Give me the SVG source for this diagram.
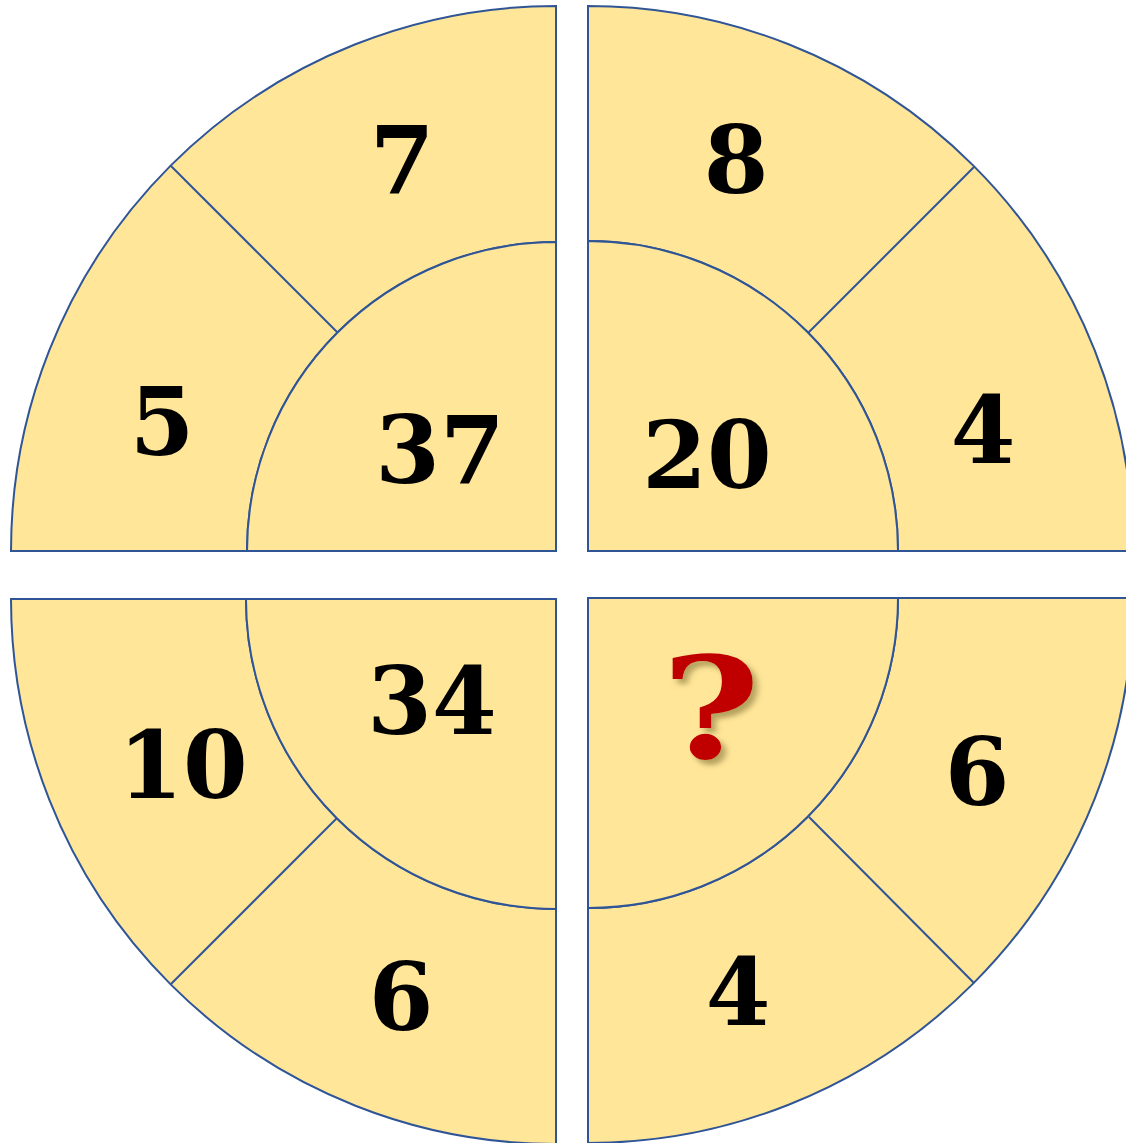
<svg xmlns="http://www.w3.org/2000/svg" width="1126" height="1143" viewBox="0 0 1126 1143">
<style>
.seg{fill:#FFE699;stroke:#2F5597;stroke-width:2;stroke-linejoin:miter}
.div{stroke:#2F5597;stroke-width:2;fill:none}
.num{font-family:"DejaVu Serif",serif;font-weight:bold;font-size:93px;fill:#000;text-anchor:middle}
.q{font-family:"DejaVu Serif",serif;font-weight:bold;font-size:140px;fill:#C00000;text-anchor:middle}
</style>
<defs>
<filter id="sh" x="-30%" y="-30%" width="160%" height="160%">
<feGaussianBlur in="SourceAlpha" stdDeviation="2.5"/>
<feOffset dx="4" dy="5" result="b"/>
<feFlood flood-color="#7a6a30" flood-opacity="0.55"/>
<feComposite in2="b" operator="in"/>
<feMerge><feMergeNode/><feMergeNode in="SourceGraphic"/></feMerge>
</filter>
</defs>
<rect width="1126" height="1143" fill="#fff"/>
<g id="q-tl">
<path class="seg" d="M 11 551 A 545 545 0 0 1 556 6 L 556 242 A 309 309 0 0 0 247 551 Z"/>
<path class="seg" d="M 247 551 A 309 309 0 0 1 556 242 L 556 551 Z"/>
<text class="num" x="402" y="193">7</text>
<text class="num" x="162" y="455">5</text>
<text class="num" x="440" y="483">37</text>
</g>
<g id="q-tr">
<path class="seg" d="M 588 6 A 545 545 0 0 1 1133 551 L 898 551 A 310 310 0 0 0 588 241 Z"/>
<path class="seg" d="M 588 241 A 310 310 0 0 1 898 551 L 588 551 Z"/>
<text class="num" x="736" y="193">8</text>
<text class="num" x="983" y="463">4</text>
<text class="num" x="707" y="488">20</text>
</g>
<g id="q-bl">
<path class="seg" d="M 11 599 L 246 599 A 310 310 0 0 0 556 909 L 556 1144 A 545 545 0 0 1 11 599 Z"/>
<path class="seg" d="M 246 599 L 556 599 L 556 909 A 310 310 0 0 1 246 599 Z"/>
<text class="num" x="183" y="798">10</text>
<text class="num" x="432" y="734">34</text>
<text class="num" x="401" y="1030">6</text>
</g>
<g id="q-br">
<path class="seg" d="M 898 598 L 1133 598 A 545 545 0 0 1 588 1143 L 588 908 A 310 310 0 0 0 898 598 Z"/>
<path class="seg" d="M 588 598 L 898 598 A 310 310 0 0 1 588 908 Z"/>
<text class="q" transform="translate(711,758) scale(1.2,1)" x="0" y="0" filter="url(#sh)">?</text>
<text class="num" x="977" y="805">6</text>
<text class="num" x="738" y="1025">4</text>
</g>
<g id="connectors">
<line class="div" x1="171" y1="166" x2="337" y2="332"/>
<line class="div" x1="974" y1="167" x2="808" y2="333"/>
<line class="div" x1="171" y1="984" x2="337" y2="818"/>
<line class="div" x1="809" y1="817" x2="974" y2="983"/>
</g>
</svg>
